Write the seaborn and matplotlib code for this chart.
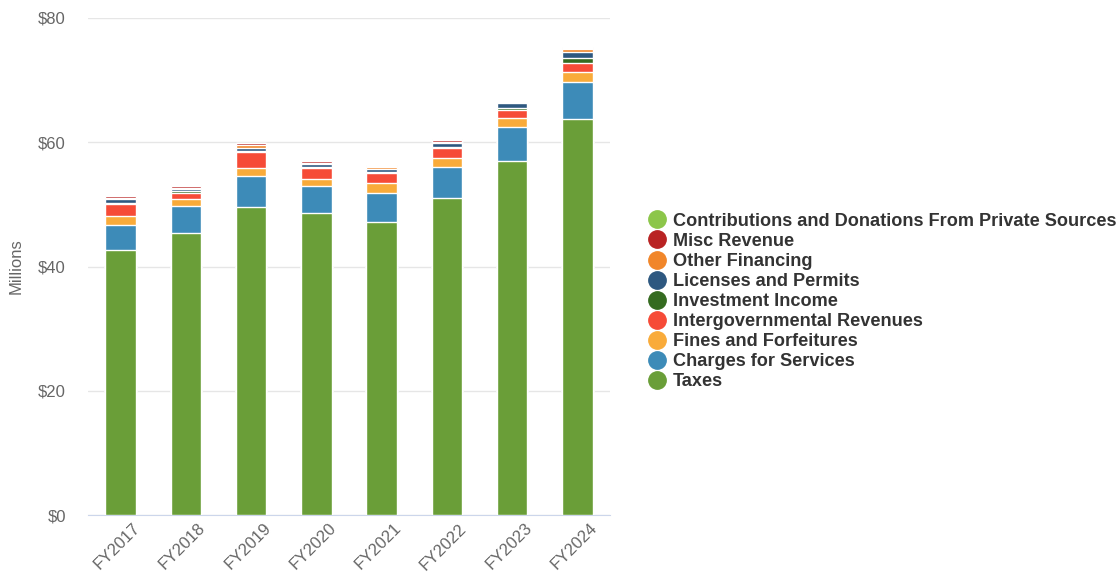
import numpy as np
import pandas as pd
import matplotlib
matplotlib.use("Agg")
import matplotlib.pyplot as plt
import matplotlib.transforms as mtransforms
from matplotlib.lines import Line2D
import seaborn as sns

# values in millions
years = ["FY2017", "FY2018", "FY2019", "FY2020", "FY2021", "FY2022", "FY2023", "FY2024"]
taxes = [42.7, 45.4, 49.5, 48.6, 47.1, 51.0, 57.0, 63.7]
charges = [4.0, 4.3, 5.0, 4.3, 4.8, 5.0, 5.5, 6.0]
fines = [1.4, 1.2, 1.3, 1.2, 1.5, 1.4, 1.45, 1.55]
intergov = [1.9, 1.0, 2.6, 1.7, 1.6, 1.7, 1.2, 1.5]
investment = [0.2, 0.2, 0.2, 0.2, 0.2, 0.2, 0.3, 0.85]
licenses = [0.6, 0.3, 0.5, 0.5, 0.45, 0.5, 0.8, 0.95]
other_fin = [0.3, 0.3, 0.4, 0.2, 0.3, 0.3, 0.05, 0.5]
misc = [0.3, 0.3, 0.3, 0.3, 0.25, 0.25, 0.05, 0.1]
contrib = [0.1, 0.1, 0.1, 0.05, 0.1, 0.1, 0.05, 0.1]

series = [
    ("Taxes", taxes, "#6a9e38"),
    ("Charges for Services", charges, "#3d8bb8"),
    ("Fines and Forfeitures", fines, "#f9ab3a"),
    ("Intergovernmental Revenues", intergov, "#f64b37"),
    ("Investment Income", investment, "#356b20"),
    ("Licenses and Permits", licenses, "#2e5880"),
    ("Other Financing", other_fin, "#f1862a"),
    ("Misc Revenue", misc, "#b92323"),
    ("Contributions and Donations From Private Sources", contrib, "#8cc64a"),
]

df = pd.DataFrame({name: vals for name, vals, _ in series}, index=years)
cum = df.cumsum(axis=1)

sns.set_style("white")
plt.rcParams["font.family"] = ["Liberation Sans", "DejaVu Sans"]

fig = plt.figure(figsize=(11.2, 5.8), dpi=100)
ax = fig.add_axes([0.0786, 0.112, 0.4660, 0.857])

# stacked bars: draw cumulative totals from the top layer down
for name, _, color in reversed(series):
    sns.barplot(x=years, y=cum[name].values, color=color, width=0.47,
                edgecolor="white", linewidth=1, saturation=1, ax=ax, zorder=3)

ax.set_ylim(0, 80)
ax.set_xlim(-0.5, 7.5)
ax.set_yticks([0, 20, 40, 60, 80])
ax.set_yticklabels([f"${v}" for v in [0, 20, 40, 60, 80]])
ax.yaxis.grid(True, color="#e6e6e6", linewidth=1, zorder=0)
ax.set_axisbelow(True)
for s in ["top", "right", "left"]:
    ax.spines[s].set_visible(False)
ax.spines["bottom"].set_color("#ccd6eb")
ax.tick_params(axis="both", length=0, colors="#666666", labelsize=12)
ax.tick_params(axis="y", pad=16)
ax.tick_params(axis="x", pad=4)
shift = mtransforms.ScaledTranslation(12 / 100, 0, fig.dpi_scale_trans)
for lbl in ax.get_xticklabels():
    lbl.set_rotation(45)
    lbl.set_ha("right")
    lbl.set_rotation_mode("anchor")
    lbl.set_transform(lbl.get_transform() + shift)
ax.set_ylabel("Millions", color="#666666", fontsize=12, labelpad=10)
ax.set_xlabel("")

handles = [Line2D([0], [0], marker="o", linestyle="", markersize=12.5,
                  markerfacecolor=c, markeredgecolor=c) for _, _, c in reversed(series)]
labels = [n for n, _, _ in reversed(series)]
leg = fig.legend(handles, labels, loc="center left", bbox_to_anchor=(0.5683, 0.48),
                 frameon=False, handletextpad=0.3, labelspacing=0.17,
                 borderpad=0, handlelength=1.2,
                 prop={"weight": "bold", "size": 13.1})
for t in leg.get_texts():
    t.set_color("#333333")

fig.savefig("out.png", dpi=100)
